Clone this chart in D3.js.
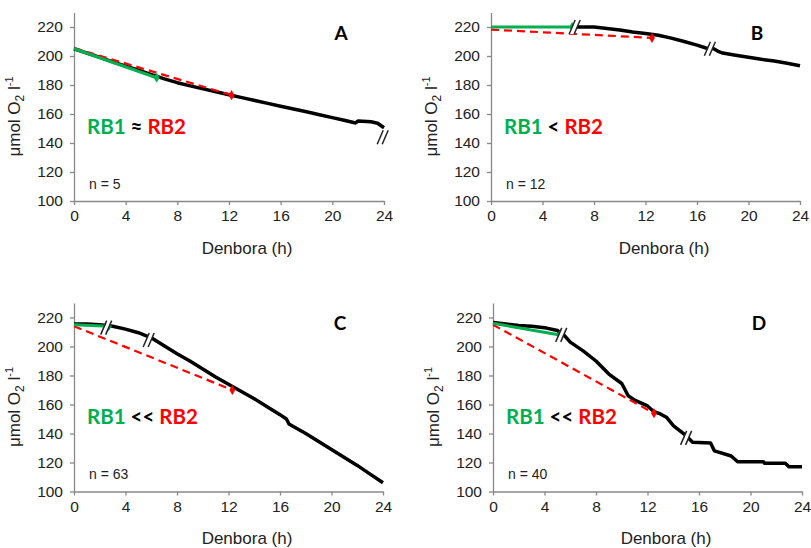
<!DOCTYPE html>
<html>
<head>
<meta charset="utf-8">
<script src="https://cdn.jsdelivr.net/npm/d3@7"></script>
<style>
  body { margin: 0; background: #fff; }
  svg { display: block; }
</style>
</head>
<body>
<svg id="chart" width="811" height="548"></svg>
<script>
// axis ticks
const hourTicks = [0, 4, 8, 12, 16, 20, 24];
const o2Ticks = [100, 120, 140, 160, 180, 200, 220];

// panel A
const hoursA = [0, 1, 2, 3, 4, 5, 6, 7, 8, 9, 10, 11, 12, 13, 14, 15, 16, 17, 18, 19, 20, 21, 21.8, 22, 23, 23.5, 24];
const o2A = [205, 202, 199, 196, 193, 190.2, 187.2, 184.2, 181.6, 179.4, 177.3, 175.3, 173.3, 171.3, 169.3, 167.3, 165.4, 163.4, 161.5, 159.5, 157.5, 155.5, 153.8, 155.2, 154.6, 153.6, 150.5];
const greenA = [[0, 205], [6.4, 185]];
const redA = [[0, 205.5], [12.2, 173]];
const breaksA = [[23.9, 144]];

// panel B
const hoursB = [6.3, 8, 9, 10, 11, 12, 13, 14, 15, 16, 16.7, 17.3, 17.7, 18, 19, 20, 21, 22, 23, 24];
const o2B = [220, 220, 219, 218, 216.5, 215.5, 214.3, 212.3, 210, 207.5, 205.5, 205, 203, 202, 200.5, 199.2, 197.7, 196.5, 195, 193.3];
const greenB = [[0, 220], [6.3, 220]];
const redB = [[0, 218.2], [12.5, 212.5]];
const breaksB = [[6.5, 220], [17, 205]];

// panel C
const hoursC = [0, 1, 2, 3, 4, 5, 6, 7, 8, 9, 10, 11, 12, 13, 14, 15, 16, 16.5, 16.7, 17, 18, 19, 20, 21, 22, 23, 24];
const o2C = [215.5, 215.5, 215, 214, 212, 209.5, 206, 200.5, 195, 190, 184.5, 179, 174, 169, 164, 158.5, 153, 150, 146.5, 145, 140, 134.5, 129, 123.5, 118, 112, 106];
const greenC = [[0, 215], [2.7, 214]];
const redC = [[0, 214], [12.3, 170]];
const breaksC = [[2.5, 213], [5.8, 204.5]];

// panel D
const hoursD = [0, 1, 2, 3, 4, 5, 5.5, 6, 7, 8, 9, 10, 10.5, 11, 12, 12.5, 13, 13.5, 14, 15, 15.5, 16.9, 17.2, 18.5, 19, 21, 21.1, 22.7, 23, 24];
const o2D = [216.5, 215.5, 214.5, 214, 213, 211, 208, 203, 197, 190, 181, 174.5, 166, 163, 159, 155, 153.5, 151, 145.5, 138.5, 134, 133.5, 128, 124.5, 120.5, 120.5, 119.5, 119.5, 117, 117];
const greenD = [[0, 216], [5.2, 208]];
const redD = [[0, 215], [12.5, 154]];
const breaksD = [[5.3, 208], [15, 137]];

const panels = [
  { letter: "A", rel: "\u2248", n: "n = 5", hours: hoursA, o2: o2A, green: greenA, red: redA, breaks: breaksA, left: 74, top: 12.5, lw: 310 },
  { letter: "B", rel: "<", n: "n = 12", hours: hoursB, o2: o2B, green: greenB, red: redB, breaks: breaksB, left: 491, top: 12.5, lw: 309 },
  { letter: "C", rel: "<<", n: "n = 63", hours: hoursC, o2: o2C, green: greenC, red: redC, breaks: breaksC, left: 74, top: 303, lw: 309 },
  { letter: "D", rel: "<<", n: "n = 40", hours: hoursD, o2: o2D, green: greenD, red: redD, breaks: breaksD, left: 493, top: 303, lw: 309 }
];

const svg = d3.select("#chart");
const axisColor = "#898989";
const plotH = 188.5;

panels.forEach(p => {
  const g = svg.append("g").attr("transform", `translate(${p.left},${p.top})`);
  const x = d3.scaleLinear().domain([0, 24]).range([0, p.lw]);
  const y = d3.scaleLinear().domain([100, 230]).range([plotH, 0]);

  // axes
  const xAxis = g.append("g")
    .attr("transform", `translate(0,${plotH})`)
    .call(d3.axisBottom(x).tickValues(hourTicks).tickSizeInner(4).tickSizeOuter(0).tickPadding(5));
  const yAxis = g.append("g")
    .call(d3.axisLeft(y).tickValues(o2Ticks).tickSizeInner(4).tickSizeOuter(0).tickPadding(7));
  [xAxis, yAxis].forEach(a => {
    a.selectAll("path, line").attr("stroke", axisColor).attr("stroke-width", 1.3);
    a.selectAll("text")
      .attr("fill", "#222")
      .style("font-family", "'Liberation Sans', Arial, sans-serif")
      .style("font-size", "15.5px");
  });

  // axis titles
  g.append("text")
    .attr("x", 173).attr("y", 241)
    .attr("text-anchor", "middle")
    .style("font-family", "'Liberation Sans', Arial, sans-serif")
    .style("font-size", "17px")
    .attr("fill", "#222")
    .text("Denbora (h)");

  const yt = g.append("text")
    .attr("transform", `translate(-54,${104}) rotate(-90)`)
    .attr("text-anchor", "middle")
    .style("font-family", "'Liberation Sans', Arial, sans-serif")
    .style("font-size", "17px")
    .attr("fill", "#222");
  yt.append("tspan").text("\u03bcmol O");
  yt.append("tspan").attr("dy", 4).style("font-size", "12px").text("2");
  yt.append("tspan").attr("dy", -4).text(" l");
  yt.append("tspan").attr("dy", -7).style("font-size", "11px").text("-1");

  const line = d3.line().x(d => x(d[0])).y(d => y(d[1]));

  // black O2 curve
  const pts = p.hours.map((h, i) => [h, p.o2[i]]);
  g.append("path")
    .attr("d", line(pts))
    .attr("fill", "none")
    .attr("stroke", "#000")
    .attr("stroke-width", 3.5)
    .attr("stroke-linejoin", "round");

  // red dashed RB2
  g.append("path")
    .attr("d", line(p.red))
    .attr("fill", "none")
    .attr("stroke", "#ff0000")
    .attr("stroke-width", 2.2)
    .attr("stroke-dasharray", "8,5");
  g.append("path")
    .attr("d", d3.symbol(d3.symbolDiamond, 30)())
    .attr("transform", `translate(${x(p.red[1][0])},${y(p.red[1][1])})`)
    .attr("fill", "#ff0000");

  // green RB1
  g.append("path")
    .attr("d", line(p.green))
    .attr("fill", "none")
    .attr("stroke", "#00b050")
    .attr("stroke-width", 3);
  g.append("path")
    .attr("d", d3.symbol(d3.symbolDiamond, 30)())
    .attr("transform", `translate(${x(p.green[1][0])},${y(p.green[1][1])})`)
    .attr("fill", "#00b050");

  // break marks "//" with a small white gap
  p.breaks.forEach(b => {
    const bx = x(b[0]), by = y(b[1]);
    g.append("path")
      .attr("d", `M${bx - 5.5},${by + 7}L${bx + 0.5},${by - 7}L${bx + 5.5},${by - 7}L${bx - 0.5},${by + 7}Z`)
      .attr("fill", "#fff");
    [-2.5, 2.5].forEach(off => {
      g.append("line")
        .attr("x1", bx + off - 3).attr("y1", by + 7)
        .attr("x2", bx + off + 3).attr("y2", by - 7)
        .attr("stroke", "#222")
        .attr("stroke-width", 1.5);
    });
  });

  // panel letter
  g.append("text")
    .attr("x", p.lw - 43).attr("y", 27)
    .attr("text-anchor", "middle")
    .style("font-family", "Lato, 'Open Sans', sans-serif")
    .style("font-weight", "bold")
    .style("font-size", "19px")
    .attr("fill", "#000")
    .text(p.letter);

  // RB1 vs RB2 label
  const lab = g.append("text")
    .attr("x", 13).attr("y", 121)
    .style("font-family", "Lato, 'Open Sans', sans-serif")
    .style("font-weight", "bold")
    .style("font-size", "20.5px");
  lab.append("tspan").attr("fill", "#00b050").text("RB1");
  lab.append("tspan").attr("fill", "#000").text(" " + p.rel + " ");
  lab.append("tspan").attr("fill", "#ff0000").text("RB2");

  // n label
  g.append("text")
    .attr("x", 15).attr("y", 176)
    .style("font-family", "'Liberation Sans', Arial, sans-serif")
    .style("font-size", "14px")
    .attr("fill", "#222")
    .text(p.n);
});
</script>
</body>
</html>
